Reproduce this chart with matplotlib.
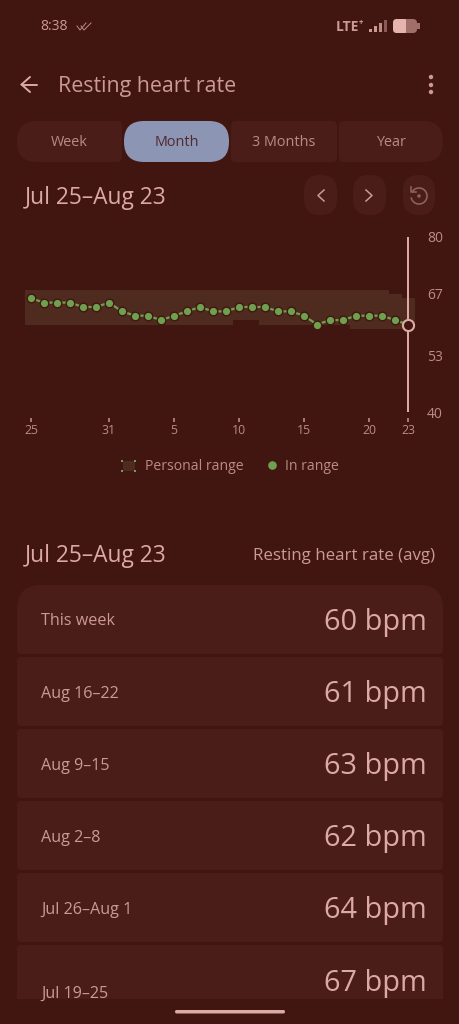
"""
plot.py - resting heart rate screen, month view, dark red theme.
Saves out.png (460x1024).
"""
import numpy as np
import matplotlib
matplotlib.use("Agg")
import matplotlib.pyplot as plt
from matplotlib.patches import PathPatch, Circle, Rectangle, Arc
from matplotlib.path import Path

# daily resting heart rate, Jul 25 - Aug 23
heart_rate = [66, 65, 65, 65, 64, 64, 65, 63, 62, 62, 61, 62, 63, 64, 63, 63,
              64, 64, 64, 63, 63, 62, 60, 61, 61, 62, 62, 62, 61, 60]
# personal range per day
range_low = [60, 60, 60, 60, 60, 60, 60, 60, 60, 60, 60, 60, 60, 60, 60, 60,
             61, 61, 60, 60, 60, 60, 60, 60, 60, 59, 59, 59, 59, 59]
range_high = [68, 68, 68, 68, 68, 68, 68, 68, 68, 68, 68, 68, 68, 68, 68, 68,
              68, 68, 68, 68, 68, 68, 68, 68, 68, 68, 68, 68, 67, 66]
x_tick_days = [0, 6, 11, 16, 21, 26, 29]
x_tick_labels = ["25", "31", "5", "10", "15", "20", "23"]
y_ticks = [40, 53, 67, 80]

tabs = ["Week", "Month", "3 Months", "Year"]
date_range = "Jul 25\u2013Aug 23"
week_labels = ["This week", "Aug 16\u201322", "Aug 9\u201315", "Aug 2\u20138",
               "Jul 26\u2013Aug 1", "Jul 19\u201325"]
week_bpm = [60, 61, 63, 62, 64, 67]

BG = "#421610"
CARD = "#4b1d18"
BAND = "#4f2a1e"
TEXT = "#dcaaa3"
TEXT_DIM = "#cb9a93"
TEXT_FAINT = "#bb8b84"
GREEN = "#6fa050"
SELECTED = "#8c96b4"
BUTTON = "#4b1d19"
W, H = 460, 1024
FONT = "Open Sans"
PX = 72 / 100  # one pixel in points

plt.rcParams["font.family"] = [FONT, "DejaVu Sans"]


def round_rect(x0, y0, x1, y1, tl, tr, br, bl):
    # rectangle in pixel coords (y down) with its own radius on each corner
    verts = [(x0 + tl, y0), (x1 - tr, y0), (x1, y0), (x1, y0 + tr),
             (x1, y1 - br), (x1, y1), (x1 - br, y1),
             (x0 + bl, y1), (x0, y1), (x0, y1 - bl),
             (x0, y0 + tl), (x0, y0), (x0 + tl, y0), (x0 + tl, y0)]
    codes = [Path.MOVETO, Path.LINETO, Path.CURVE3, Path.CURVE3,
             Path.LINETO, Path.CURVE3, Path.CURVE3,
             Path.LINETO, Path.CURVE3, Path.CURVE3,
             Path.LINETO, Path.CURVE3, Path.CURVE3, Path.CLOSEPOLY]
    return Path(verts, codes)


def box(ui, x0, y0, x1, y1, radii, color):
    ui.add_patch(PathPatch(round_rect(x0, y0, x1, y1, *radii), fc=color, ec="none"))


fig = plt.figure(figsize=(W / 100, H / 100), dpi=100, facecolor=BG)

# whole-screen axes in pixel coords for everything that isn't the chart
ui = fig.add_axes([0, 0, 1, 1])
ui.set_xlim(0, W); ui.set_ylim(H, 0); ui.axis("off")

# status bar
ui.text(40, 27, "8:38", color=TEXT_DIM, fontsize=10, va="center")
ui.plot([77, 80, 86], [26, 30, 23], color=TEXT_FAINT, lw=0.7)
ui.plot([81, 84, 91], [26, 30, 23], color=TEXT_FAINT, lw=0.7)
ui.text(336, 27, "LTE", color=TEXT_DIM, fontsize=10, fontweight="bold", va="center")
ui.text(361, 23, "+", color=TEXT_DIM, fontsize=5.5, fontweight="bold", ha="center", va="center")
for bx, top, col in [(369, 29, TEXT_DIM), (374, 26, TEXT_DIM), (379, 23, TEXT_FAINT), (384, 20, "#8a5a54")]:
    ui.add_patch(Rectangle((bx, top), 3, 32 - top, fc=col, ec="none"))
box(ui, 393, 19, 417, 33, (4, 4, 4, 4), "#a06f68")
box(ui, 393, 19, 406, 33, (4, 1, 1, 4), "#e5b4ad")
ui.add_patch(Rectangle((417, 23), 3, 6, fc="#a06f68", ec="none"))

# header
ui.plot([30, 21.5, 30], [77, 84.5, 92], color=TEXT, lw=1.4, solid_capstyle="round", solid_joinstyle="miter")
ui.plot([22, 37], [84.5, 84.5], color=TEXT, lw=1.4, solid_capstyle="round")
ui.text(58, 86.5, "Resting heart rate", color=TEXT_DIM, fontsize=15.4, va="center")
for dy in [77, 85, 92]:
    ui.add_patch(Circle((431, dy), 2.2, fc=TEXT_DIM, ec="none"))

# tabs
tab_boxes = [(17, 122, (20, 5, 5, 20)), (124, 229, (20, 20, 20, 20)),
             (231, 337, (5, 5, 5, 5)), (339, 443, (5, 20, 20, 5))]
for name, (x0, x1, radii) in zip(tabs, tab_boxes):
    sel = name == "Month"
    box(ui, x0, 121, x1, 162, radii, SELECTED if sel else BUTTON)
    ui.text((x0 + x1) / 2, 143, name, color="#52282c" if sel else TEXT_FAINT,
            fontsize=10.4, ha="center", va="center")

# date row + nav buttons
ui.text(25, 197.5, date_range, color=TEXT, fontsize=16.4, va="center")
for x0, x1 in [(304, 337), (353, 386), (403, 435)]:
    box(ui, x0, 175, x1, 215, (16, 16, 16, 16), BUTTON)
ui.plot([324, 318, 324], [190, 195.5, 201], color=TEXT_DIM, lw=1.1)
ui.plot([366, 372, 366], [190, 195.5, 201], color=TEXT_DIM, lw=1.1)
ui.add_patch(Arc((419, 196), 16, 16, theta1=-150, theta2=170, color="#8f5f58", lw=1.2))
ui.add_patch(Circle((419, 196), 1.8, fc="#8f5f58", ec="none"))
ui.plot([411, 411, 416], [187, 192, 192], color="#8f5f58", lw=1.2)

# chart: 13 px per day, first day at x=31; 80 bpm at y=237, 4.375 px per bpm
ax = fig.add_axes([0, (H - 418) / H, 422 / W, (418 - 237) / H])
ax.patch.set_alpha(0)
ax.set_xlim(-31 / 13, (422 - 31) / 13)
ax.set_ylim(80 - (418 - 237) / 4.375, 80)
for s in ax.spines.values():
    s.set_visible(False)

days = np.arange(len(heart_rate))
edges = np.append(days - 0.5, days[-1] + 0.5)
ax.stairs(range_high, edges, baseline=range_low, fill=True, color=BAND, lw=0)
ax.plot(days, heart_rate, color=GREEN, lw=1.6, zorder=3, marker="o", ms=6.2,
        mfc=GREEN, mec=BG, mew=1.0)

# selected day cursor
ax.plot([days[-1], days[-1]], [40, 80], color=TEXT, lw=2 * PX, zorder=4, solid_capstyle="butt")
ax.plot(days[-1], heart_rate[-1], marker="o", ms=8, mfc=BG, mec=TEXT, mew=1.5, zorder=5)

ax.set_xticks(x_tick_days, x_tick_labels)
ax.tick_params(axis="x", length=2.6, width=1.2, color=TEXT_FAINT, labelcolor=TEXT_FAINT,
               labelsize=8.8, pad=2)
ax.yaxis.tick_right()
ax.set_yticks(y_ticks, [str(v) for v in y_ticks])
ax.tick_params(axis="y", length=0, labelcolor=TEXT_FAINT, labelsize=10, pad=3.6)

# legend
ui.add_patch(Rectangle((123, 461), 12, 10, fc=BAND, ec="none"))
for cx, cy in [(122.5, 460.5), (135, 460.5), (122.5, 470.5), (135, 470.5)]:
    ui.add_patch(Rectangle((cx - 1, cy - 1), 2, 2, fc=GREEN, ec="none"))
ui.text(145, 467, "Personal range", color=TEXT_FAINT, fontsize=10.1, va="center")
ui.add_patch(Circle((272.5, 465.5), 4.3, fc=GREEN, ec="none"))
ui.text(285, 467, "In range", color=TEXT_FAINT, fontsize=10.1, va="center")

# weekly table
ui.text(25, 555.5, date_range, color=TEXT, fontsize=16.4, va="center")
ui.text(435, 555.5, "Resting heart rate (avg)", color=TEXT_DIM, fontsize=12.2, ha="right", va="center")

card_tops = [585, 657, 729, 801, 873, 945]
card_bottoms = [654, 726, 798, 870, 942, 999]
label_y = [621, 694, 766, 838, 910, 994]
value_y = [622.5, 694.5, 766.5, 838.5, 910.5, 983.5]
for i, (lab, bpm) in enumerate(zip(week_labels, week_bpm)):
    radii = (24, 24, 4, 4) if i == 0 else (4, 4, 4, 4) if i < 5 else (4, 4, 0, 0)
    box(ui, 17, card_tops[i], 443, card_bottoms[i], radii, CARD)
    ui.text(41, label_y[i], lab, color=TEXT_DIM, fontsize=11.6, va="center")
    ui.text(427, value_y[i], f"{bpm} bpm", color=TEXT, fontsize=20.8, ha="right", va="center")

# home indicator
box(ui, 175, 1010, 285, 1013.5, (1.7, 1.7, 1.7, 1.7), TEXT)

fig.savefig("out.png", dpi=100, facecolor=BG)
